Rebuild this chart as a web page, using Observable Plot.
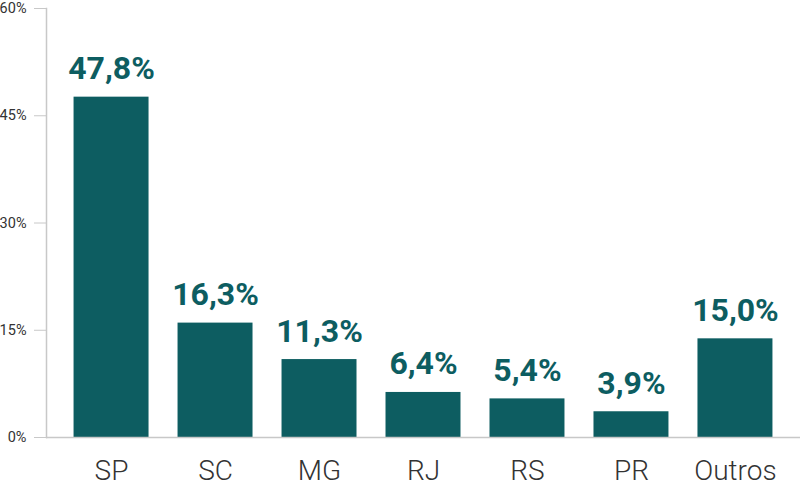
<!DOCTYPE html>
<html>
<head>
<meta charset="utf-8">
<script src="https://cdn.jsdelivr.net/npm/d3@7"></script>
<script src="https://cdn.jsdelivr.net/npm/@observablehq/plot@0.6"></script>
<style>
  html, body { margin: 0; padding: 0; background: #fff; }
  #chart svg { display: block; font-family: Roboto, "Noto Sans", sans-serif; }
</style>
</head>
<body>
<div id="chart"></div>
<script>
const categories = ["SP", "SC", "MG", "RJ", "RS", "PR", "Outros"];
const values = [47.6, 16.0, 10.9, 6.3, 5.4, 3.6, 13.8];
const labels = ["47,8%", "16,3%", "11,3%", "6,4%", "5,4%", "3,9%", "15,0%"];
const yTicks = [0, 15, 30, 45, 60];

const data = categories.map((c, i) => ({ cat: c, value: values[i], label: labels[i] }));
const teal = "#0d5d61";

const chart = Plot.plot({
  width: 800,
  height: 489,
  marginTop: 8,
  marginLeft: 46,
  marginRight: 0,
  marginBottom: 52,
  style: { fontFamily: "Roboto, sans-serif", background: "#fff" },
  x: { domain: categories, paddingInner: 0.279, paddingOuter: 0.265, round: false, label: null },
  y: { domain: [0, 60], label: null },
  marks: [
    Plot.axisY({ ticks: yTicks, tickFormat: d => d + "%", tickSize: 12, tickPadding: 8,
                 fontSize: 14.5, stroke: "#c8c8c8", color: "#333", label: null }),
    Plot.axisX({ tickSize: 0, tickPadding: 23, fontSize: 28, fontWeight: 300, color: "#333", label: null }),
    Plot.barY(data, { x: "cat", y: "value", fill: teal }),
    Plot.ruleY([0], { stroke: "#c8c8c8", strokeWidth: 1.5 }),
    Plot.frame({ anchor: "left", stroke: "#c8c8c8", strokeWidth: 1.5 }),
    Plot.text(data, { x: "cat", y: "value", text: "label", dy: -18, lineAnchor: "bottom",
                      fontSize: 32, fontWeight: 700, fill: teal })
  ]
});
document.getElementById("chart").appendChild(chart);
</script>
</body>
</html>
